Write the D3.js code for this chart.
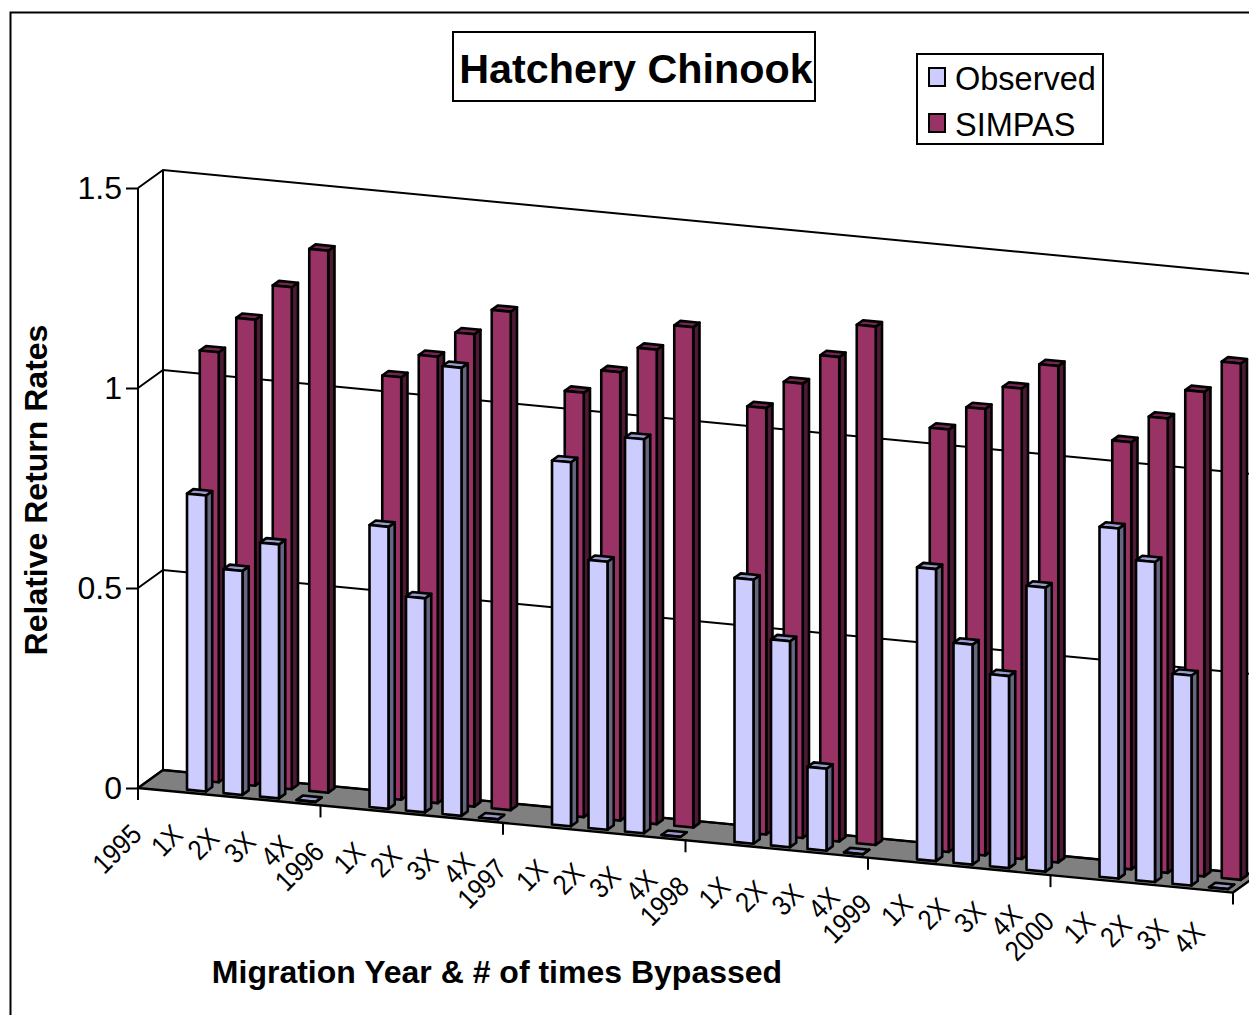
<!DOCTYPE html>
<html>
<head>
<meta charset="utf-8">
<script src="https://cdn.jsdelivr.net/npm/d3@7"></script>
<style>
html,body{margin:0;padding:0;background:#fff;overflow:hidden}
svg{display:block}
text{font-family:"Liberation Sans",Arial,sans-serif;fill:#000}
</style>
</head>
<body>
<svg id="c" width="1249" height="1015"></svg>
<script>
const years = ["1995","1996","1997","1998","1999","2000"];
const passes = ["1X","2X","3X","4X"];
const categories = years.flatMap(y => [y, ...passes]);
const observed = [
  0.74,0.56,0.635,0,
  0.705,0.535,1.12,0,
  0.91,0.67,0.985,0,
  0.66,0.515,0.205,0,
  0.73,0.55,0.48,0.71,
  0.875,0.80,0.525,0
];
const simpas = [
  1.075,1.165,1.255,1.355,
  1.056,1.116,1.181,1.246,
  1.061,1.121,1.186,1.251,
  1.066,1.136,1.211,1.296,
  1.056,1.116,1.176,1.241,
  1.068,1.136,1.211,1.291
];
const valueTicks = [0,0.5,1,1.5];

const svg = d3.select("#c");
const x = d3.scaleBand().domain(d3.range(categories.length)).range([138,1233]);
const h = d3.scaleLinear().domain([0,1.5]).range([0,600]);
const y0 = 788, slope = 0.0955, depthX = 25, depthY = 18;
const frontY = px => y0 + slope*(px-138);
// oblique projection: px along the front edge, v value, t depth 0..1
const P = (px,v,t) => [px + t*depthX, frontY(px) - h(v) - t*depthY];
const line = d3.line();
const K = "#000";

// frame
svg.append("path").attr("d","M10.5,1015V12.5H1249").attr("fill","none").attr("stroke",K).attr("stroke-width",2);

// floor
const xL = x.range()[0], xR = x.range()[1];
svg.append("path").attr("d",line([P(xL,0,0),P(xR,0,0),P(xR,0,1),P(xL,0,1)])+"Z")
  .attr("fill","#808080").attr("stroke",K).attr("stroke-width",2.4).attr("stroke-linejoin","round");

// walls + gridlines
const grid = svg.append("g").attr("fill","none").attr("stroke",K).attr("stroke-width",2);
valueTicks.forEach(v=>{
  grid.append("path").attr("d",line([P(xL,v,0),P(xL,v,1),P(xR+30,v,1)]));
});
grid.append("path").attr("d",line([P(xL,0,1),P(xL,1.5,1)]));
grid.append("path").attr("d",line([P(xL,0,0),P(xL,1.5,0)]));

// category ticks at the start of each year group and at the end of the axis
categories.forEach((c,i)=>{
  if(!years.includes(c)) return;
  const p = P(x(i),0,0);
  grid.append("path").attr("d",line([p,[p[0],p[1]+12]]));
});
{const p=P(xR,0,0); grid.append("path").attr("d",line([p,[p[0],p[1]+12]]));}

// value axis labels
const yAxis = d3.scaleLinear().domain([0,1.5]).range([y0,y0-600]);
const ax = svg.append("g").attr("transform",`translate(${xL},0)`)
  .call(d3.axisLeft(yAxis).tickValues(valueTicks).tickSize(12).tickPadding(4).tickFormat(d=>String(d)));
ax.select(".domain").remove();
ax.selectAll("line").attr("stroke",K).attr("stroke-width",2);
ax.selectAll("text").style("font-size","32px").style("font-family",'"Liberation Sans"').attr("fill",K);

// bars
const seriesDefs = [
  {name:"SIMPAS", values:simpas, t:0.66, front:"#993366", side:"#4d1a33", top:"#732650"},
  {name:"Observed", values:observed, t:0.15, front:"#ccccff", side:"#666680", top:"#9999cc"}
];
const barW = x.bandwidth()*0.52, barT = 0.25;
const catIndex = [];
categories.forEach((c,i)=>{ if(passes.includes(c)) catIndex.push(i); });

seriesDefs.forEach(s=>{
  const g = svg.append("g").attr("stroke",K).attr("stroke-width",2.6).attr("stroke-linejoin","round");
  s.values.forEach((v,i)=>{
    const px = x(catIndex[i]) + (x.bandwidth()-barW)/2;
    const a=P(px,0,s.t), b=P(px+barW,0,s.t), c=P(px+barW,v,s.t), d=P(px,v,s.t);
    const b2=P(px+barW,0,s.t+barT), c2=P(px+barW,v,s.t+barT), d2=P(px,v,s.t+barT);
    g.append("path").attr("d",line([b,b2,c2,c])+"Z").attr("fill",s.side);
    g.append("path").attr("d",line([d,c,c2,d2])+"Z").attr("fill",s.top);
    g.append("path").attr("d",line([a,b,c,d])+"Z").attr("fill",s.front);
  });
});

// category labels
categories.forEach((c,i)=>{
  const isYear = years.includes(c);
  const cx = x(i) + x.bandwidth()/2;
  const tx = cx + (isYear ? -39.5 : -26);
  const ty = frontY(cx) + (isYear ? 59 : 47);
  svg.append("text").attr("transform",`translate(${tx},${ty}) rotate(-45) scale(0.92,1.05)`)
    .attr("text-anchor","middle").attr("dy","0.35em").style("font-size","27px").text(c);
});

// titles
svg.append("text").attr("transform","translate(47,490) rotate(-90)").attr("text-anchor","middle")
  .style("font-size","32px").style("font-weight","bold").text("Relative Return Rates");
svg.append("text").attr("x",497).attr("y",983).attr("text-anchor","middle")
  .style("font-size","32px").style("font-weight","bold").text("Migration Year & # of times Bypassed");

// title box
svg.append("rect").attr("x",453).attr("y",32).attr("width",362).attr("height",69).attr("fill","#fff").attr("stroke",K).attr("stroke-width",2);
svg.append("text").attr("x",636).attr("y",83).attr("text-anchor","middle")
  .style("font-size","41.3px").style("font-weight","bold").text("Hatchery Chinook");

// legend
svg.append("rect").attr("x",917).attr("y",54).attr("width",186).attr("height",90).attr("fill","#fff").attr("stroke",K).attr("stroke-width",2);
[{n:"Observed",f:"#ccccff",y:68,b:90},{n:"SIMPAS",f:"#993366",y:114,b:136}].forEach(l=>{
  svg.append("rect").attr("x",929).attr("y",l.y).attr("width",16).attr("height",18).attr("fill",l.f).attr("stroke",K).attr("stroke-width",2);
  svg.append("text").attr("x",955).attr("y",l.b).style("font-size","32.5px").text(l.n);
});
</script>
</body>
</html>
